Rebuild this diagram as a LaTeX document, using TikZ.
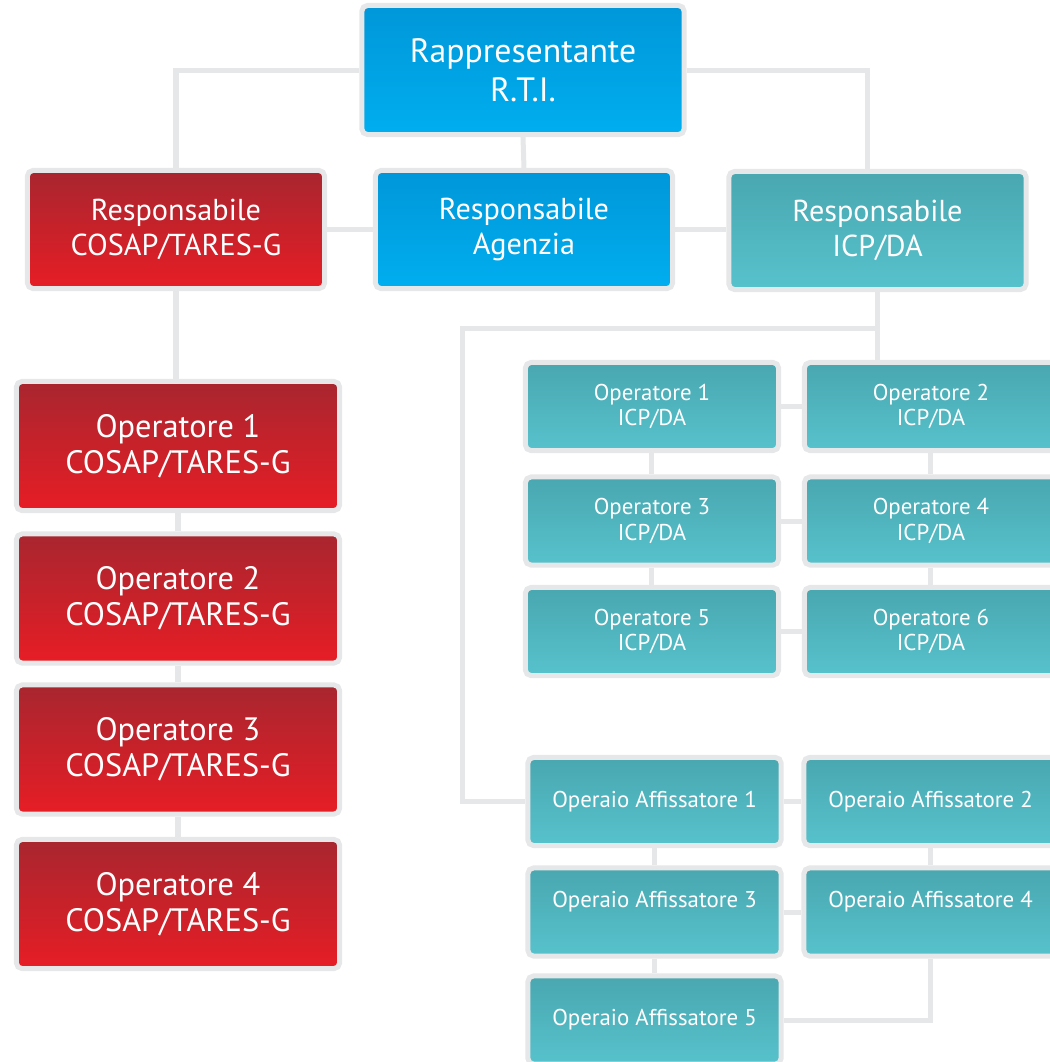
\documentclass[tikz,border=0pt]{standalone}
\usepackage{fontspec}
\setmainfont{PT Sans}
\usetikzlibrary{calc}
\definecolor{lnk}{HTML}{E6E7E8}
\definecolor{blueT}{HTML}{0097D9}
\definecolor{blueB}{HTML}{00AEEF}
\definecolor{redT}{HTML}{A8262F}
\definecolor{redB}{HTML}{E71D25}
\definecolor{tealT}{HTML}{49A7B0}
\definecolor{tealB}{HTML}{57C2CC}
\newcommand{\FontT}{\fontsize{9.6}{11}\selectfont}
\newcommand{\FontL}{\fontsize{9.2}{10.3}\selectfont}
\newcommand{\FontM}{\fontsize{8.6}{10}\selectfont}
\newcommand{\FontS}{\fontsize{6.5}{7.2}\selectfont}

\begin{document}
\begin{tikzpicture}[x=0.01cm, y=-0.01cm,
  box/.style={rectangle, draw=lnk, line width=0.05cm, rounded corners=0.055cm,
    text=white, align=center, inner sep=0pt},
  bluebox/.style={box, top color=blueT, bottom color=blueB},
  redbox/.style={box, top color=redT, bottom color=redB},
  tealbox/.style={box, top color=tealT, bottom color=tealB},
  headbox/.style={minimum width=2.97cm, minimum height=1.18cm, font=\FontM},
  opbox/.style={redbox, minimum width=3.23cm, minimum height=1.29cm, font=\FontL},
  icpbox/.style={tealbox, minimum width=2.53cm, minimum height=0.88cm, font=\FontS},
  link/.style={draw=lnk, line width=0.05cm}]

  \useasboundingbox (0,0) rectangle (1050,1062);

  %% top
  \node[bluebox, minimum width=3.22cm, minimum height=1.29cm, font=\FontT] (rti)
    at (523,70) {Rappresentante\\R.T.I.};

  %% responsabili
  \node[redbox, headbox] (rcosap) at (176,229.5) {Responsabile\\COSAP/TARES-G};
  \node[bluebox, headbox] (ragz) at (524,229.5) {Responsabile\\Agenzia};
  \node[tealbox, headbox] (ricp) at (877.5,230.5) {Responsabile\\ICP/DA};

  %% operatori COSAP/TARES-G
  \foreach \i/\y in {1/446, 2/598.5, 3/749.5, 4/904}
    \node[opbox] (cop\i) at (178,\y) {Operatore \i\\COSAP/TARES-G};

  %% operatori ICP/DA
  \foreach \i/\x/\y in {1/652/406.5, 2/931/406.5, 3/652/521, 4/931/521, 5/652/631.5, 6/931/631.5}
    \node[icpbox] (iop\i) at (\x,\y) {Operatore \i\\ICP/DA};

  %% operai affissatori
  \node[icpbox] (aff1) at (654.5,801.5) {Operaio Affissatore 1};
  \node[icpbox] (aff2) at (930.5,801.5) {Operaio Affissatore 2};
  \node[icpbox] (aff3) at (654.5,912) {Operaio Affissatore 3\\~};
  \node[icpbox] (aff4) at (930.5,912) {Operaio Affissatore 4\\~};
  \node[icpbox] (aff5) at (654.5,1020) {Operaio Affissatore 5};

  %% links
  \draw[link] (rti.west) -| (rcosap.north);
  \draw[link] (rti.east) -| ([xshift=-0.095cm]ricp.north);
  \draw[link] (rti.south) -- (ragz.north);
  \draw[link] (rcosap.east) -- (ragz.west);
  \draw[link] (ragz.east) -- (ragz.east -| ricp.west);

  \draw[link] (rcosap.south) -- (rcosap.south |- cop1.north);
  \draw[link] (cop1.south) -- (cop2.north);
  \draw[link] (cop2.south) -- (cop3.north);
  \draw[link] (cop3.south) -- (cop4.north);

  \coordinate (bus) at (463,328);
  \draw[link] (ricp.south) -- (ricp.south |- iop2.north);
  \draw[link] (ricp.south |- bus) -- (bus) |- (aff1.west);

  \draw[link] (iop1.east) -- (iop2.west);
  \draw[link] (iop3.east) -- (iop4.west);
  \draw[link] (iop5.east) -- (iop6.west);
  \draw[link] (iop1.south) -- (iop3.north);
  \draw[link] (iop3.south) -- (iop5.north);
  \draw[link] (iop2.south) -- (iop4.north);
  \draw[link] (iop4.south) -- (iop6.north);

  \draw[link] (aff1.east) -- (aff2.west);
  \draw[link] (aff3.east) -- (aff4.west);
  \draw[link] (aff1.south) -- (aff3.north);
  \draw[link] (aff3.south) -- (aff5.north);
  \draw[link] (aff2.south) -- (aff4.north);
  \draw[link] (aff4.south) |- (aff5.east);
\end{tikzpicture}
\end{document}
